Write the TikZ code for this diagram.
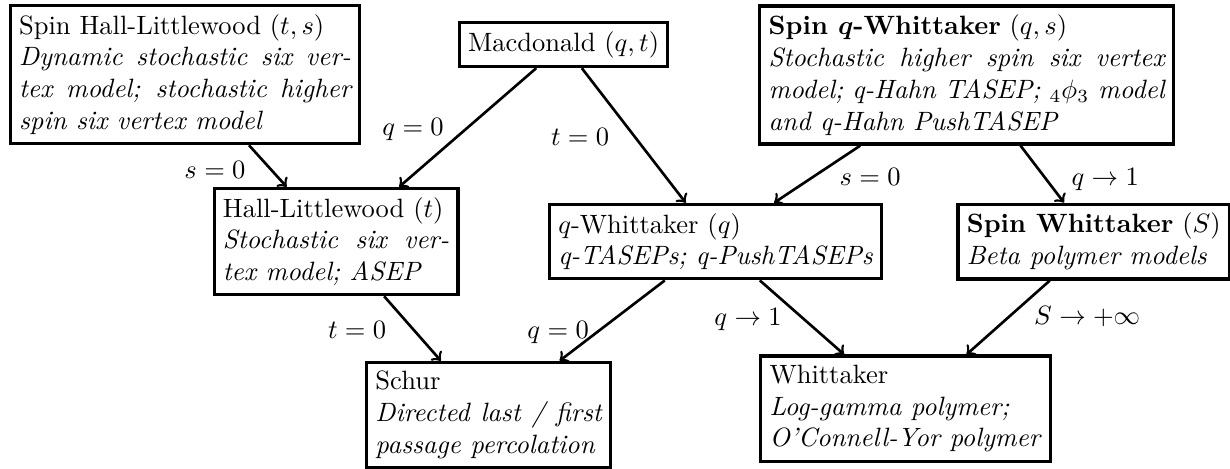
\documentclass[tikz,border=0pt]{standalone}
\usepackage{tikz}
\usetikzlibrary{calc}
\tikzset{
	model/.style={draw, line width=1.2pt, inner sep=3.33pt},
	degen/.style={->, line width=1pt},
}

\begin{document}
\begin{tikzpicture}
		%%%%% START %%%%%
		
		\useasboundingbox (0, 0) rectangle (16.31, 6.207);
		
		\node[model, text width=4.4cm, align=justify] (spinhl) at (2.454, 5.219) {Spin Hall-Littlewood $(t,s)$\\ \textit{Dynamic stochastic six vertex model; stochastic higher spin six vertex model}};
		\node[model] (mac) at (7.473, 5.617) {Macdonald $(q,t)$};
		\node[model, text width=5.25cm, align=justify] (spinqw) at (12.818, 5.212) {\textbf{Spin \boldmath$q$-Whittaker} $(q,s)$\\ \textit{Stochastic higher spin six vertex model; q-Hahn TASEP; $_4\phi_3$ model and q-Hahn PushTASEP}};
		
		\node[model, text width=3cm, align=justify] (hl) at (4.456, 3.004) {Hall-Littlewood $(t)$\\ \textit{Stochastic six vertex model; ASEP}};
		\node[model, align=left] (qw) at (9.489, 3.004) {$q$-Whittaker $(q)$\\ \textit{q-TASEPs; q-PushTASEPs}};
		\node[model, align=left] (spinw) at (14.503, 3.004) {\textbf{Spin Whittaker} $(S)$\\ \textit{Beta polymer models}};
		
		\node[model, text width=3cm, align=justify] (schur) at (6.479, 0.703) {Schur\\ \textit{Directed last / first passage percolation}};
		\node[model, align=left] (whit) at (12.009, 0.789) {Whittaker\\ \textit{Log-gamma polymer;}\\ \textit{O'Connell-Yor polymer}};
		
		\draw[degen] (spinhl) -- (hl);
		\draw[degen] (mac) -- (hl);
		\draw[degen] (mac) -- (qw);
		\draw[degen] (spinqw) -- (qw);
		\draw[degen] (spinqw) -- (spinw);
		\draw[degen] (hl) -- (schur);
		\draw[degen] (qw) -- (schur);
		\draw[degen] (qw) -- (whit);
		\draw[degen] (spinw) -- (whit);
		
		\node (s0a) at (2.851, 3.952) {$s=0$};
		\node (q0a) at (5.477, 4.496) {$q=0$};
		\node (t0a) at (7.692, 4.390) {$t=0$};
		\node (s0b) at (11.538, 3.859) {$s=0$};
		\node (q1a) at (14.655, 3.833) {$q\to1$};
		\node (t0b) at (4.735, 1.830) {$t=0$};
		\node (q0b) at (7.401, 1.804) {$q=0$};
		\node (q1b) at (9.920, 1.976) {$q\to1$};
		\node (sinf) at (14.416, 2.003) {$S\to+\infty$};
		
		%%%%% END %%%%%
	\end{tikzpicture}
\end{document}
